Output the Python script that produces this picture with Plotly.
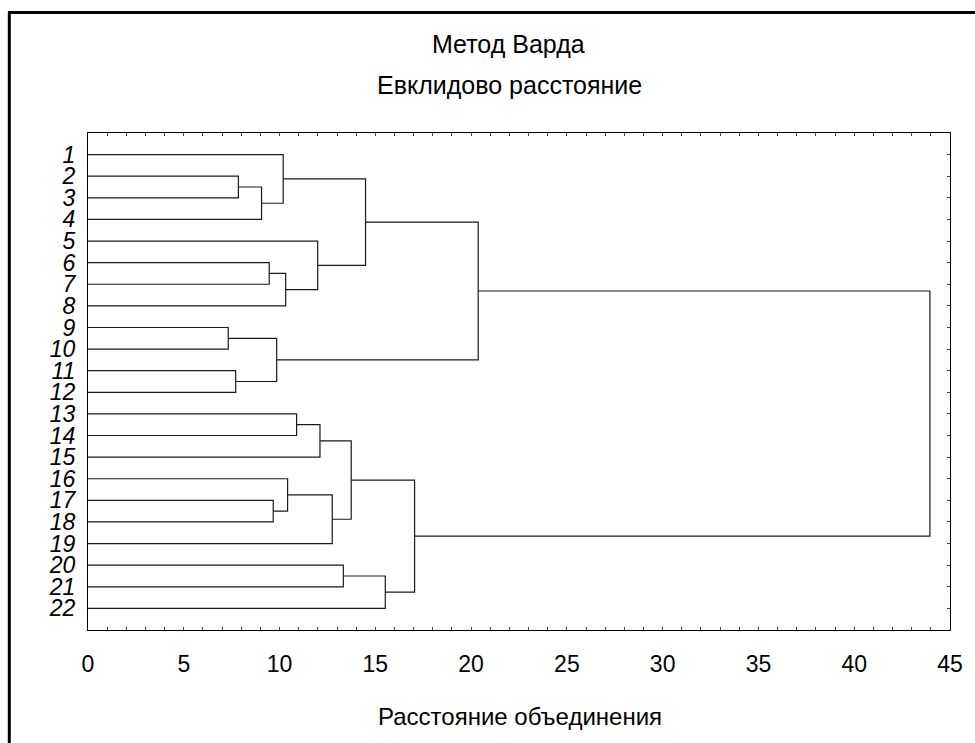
import plotly.graph_objects as go

# Leaves (objects) in dendrogram order, top to bottom
leaf_labels = [str(i) for i in range(1, 23)]

# Merges (Ward's method): children and linkage distance
merge_a = ["2", "m1", "1", "6", "m4", "5", "m3", "9", "11", "m8", "m7",
           "13", "m12", "17", "16", "m15", "m13", "20", "m18", "m17", "m11"]
merge_b = ["3", "4", "m2", "7", "8", "m5", "m6", "10", "12", "m9", "m10",
           "14", "15", "18", "m14", "19", "m16", "21", "22", "m19", "m20"]
merge_height = [7.85, 9.06, 10.19, 9.46, 10.32, 11.99, 14.49, 7.32, 7.71, 9.85, 20.37,
                10.89, 12.11, 9.67, 10.42, 12.75, 13.74, 13.33, 15.52, 17.05, 43.95]

x_ticks = [0, 5, 10, 15, 20, 25, 30, 35, 40, 45]

title1 = "Метод Варда"
title2 = "Евклидово расстояние"
x_title = "Расстояние объединения"

# --- build dendrogram segments in data units ---
pos = {}
hgt = {}
for i, lab in enumerate(leaf_labels):
    pos[lab] = i + 1
    hgt[lab] = 0.0

xs, ys = [], []
for k, (a, b, h) in enumerate(zip(merge_a, merge_b, merge_height)):
    name = "m%d" % (k + 1)
    ya, yb = pos[a], pos[b]
    xs += [hgt[a], h, h, hgt[b], None]
    ys += [ya, ya, yb, yb, None]
    pos[name] = (ya + yb) / 2.0
    hgt[name] = h

FONT = "Liberation Sans, Arial, sans-serif"

fig = go.Figure()
fig.add_trace(go.Scatter(x=xs, y=ys, mode="lines",
                         line=dict(color="#1a1a1a", width=1.2),
                         hoverinfo="skip", showlegend=False))
# dummy trace for the right-hand axis
fig.add_trace(go.Scatter(x=[None], y=[None], yaxis="y2", showlegend=False,
                         hoverinfo="skip"))

W, H = 975, 743
L, R, T, B = 88, 25, 133, 113
pw, ph = W - L - R, H - T - B

def px_x(p):
    return (p - L) / pw

def px_y(p):
    return (H - B - p) / ph

fig.update_layout(
    width=W, height=H,
    margin=dict(l=L, r=R, t=T, b=B, pad=0),
    paper_bgcolor="white", plot_bgcolor="white",
    font=dict(family=FONT, color="black"),
    xaxis=dict(range=[0, 45], tickvals=x_ticks, ticktext=[str(v) for v in x_ticks],
               ticks="inside", ticklen=3, tickcolor="#444",
               minor=dict(ticks="inside", dtick=1, ticklen=3, tickcolor="#444"),
               showline=True, linecolor="black", linewidth=1, mirror="ticks",
               showgrid=False, zeroline=False,
               tickfont=dict(size=23, family=FONT), ticklabelstandoff=13),
    yaxis=dict(range=[23, 0], tickvals=list(range(1, 23)), ticktext=leaf_labels,
               ticks="", showline=True, linecolor="black", linewidth=1, mirror=True,
               showgrid=False, zeroline=False,
               tickfont=dict(size=23, family=FONT, style="italic"),
               ticklabelstandoff=7),
    yaxis2=dict(range=[23, 0], overlaying="y", side="right", anchor="x",
                tickvals=list(range(0, 24)), ticks="inside", ticklen=3, tickcolor="#444",
                showticklabels=False, showgrid=False, zeroline=False, showline=False),
)

fig.add_annotation(x=px_x(508), y=px_y(44), xref="paper", yref="paper",
                   text=title1, showarrow=False, font=dict(size=25, family=FONT),
                   xanchor="center", yanchor="middle")
fig.add_annotation(x=px_x(509), y=px_y(85), xref="paper", yref="paper",
                   text=title2, showarrow=False, font=dict(size=25, family=FONT),
                   xanchor="center", yanchor="middle")
fig.add_annotation(x=px_x(520), y=px_y(716), xref="paper", yref="paper",
                   text=x_title, showarrow=False, font=dict(size=24, family=FONT),
                   xanchor="center", yanchor="middle")

# outer frame (left and top edges visible)
fig.add_shape(type="line", xref="paper", yref="paper",
              x0=px_x(9.3), y0=px_y(800), x1=px_x(9.3), y1=px_y(12.5),
              line=dict(color="black", width=3))
fig.add_shape(type="line", xref="paper", yref="paper",
              x0=px_x(8), y0=px_y(12.5), x1=px_x(1000), y1=px_y(12.5),
              line=dict(color="black", width=3))

fig.write_html("out.html", config={"displayModeBar": False},
               post_script="document.body.style.margin='0';document.body.style.overflow='hidden';")
